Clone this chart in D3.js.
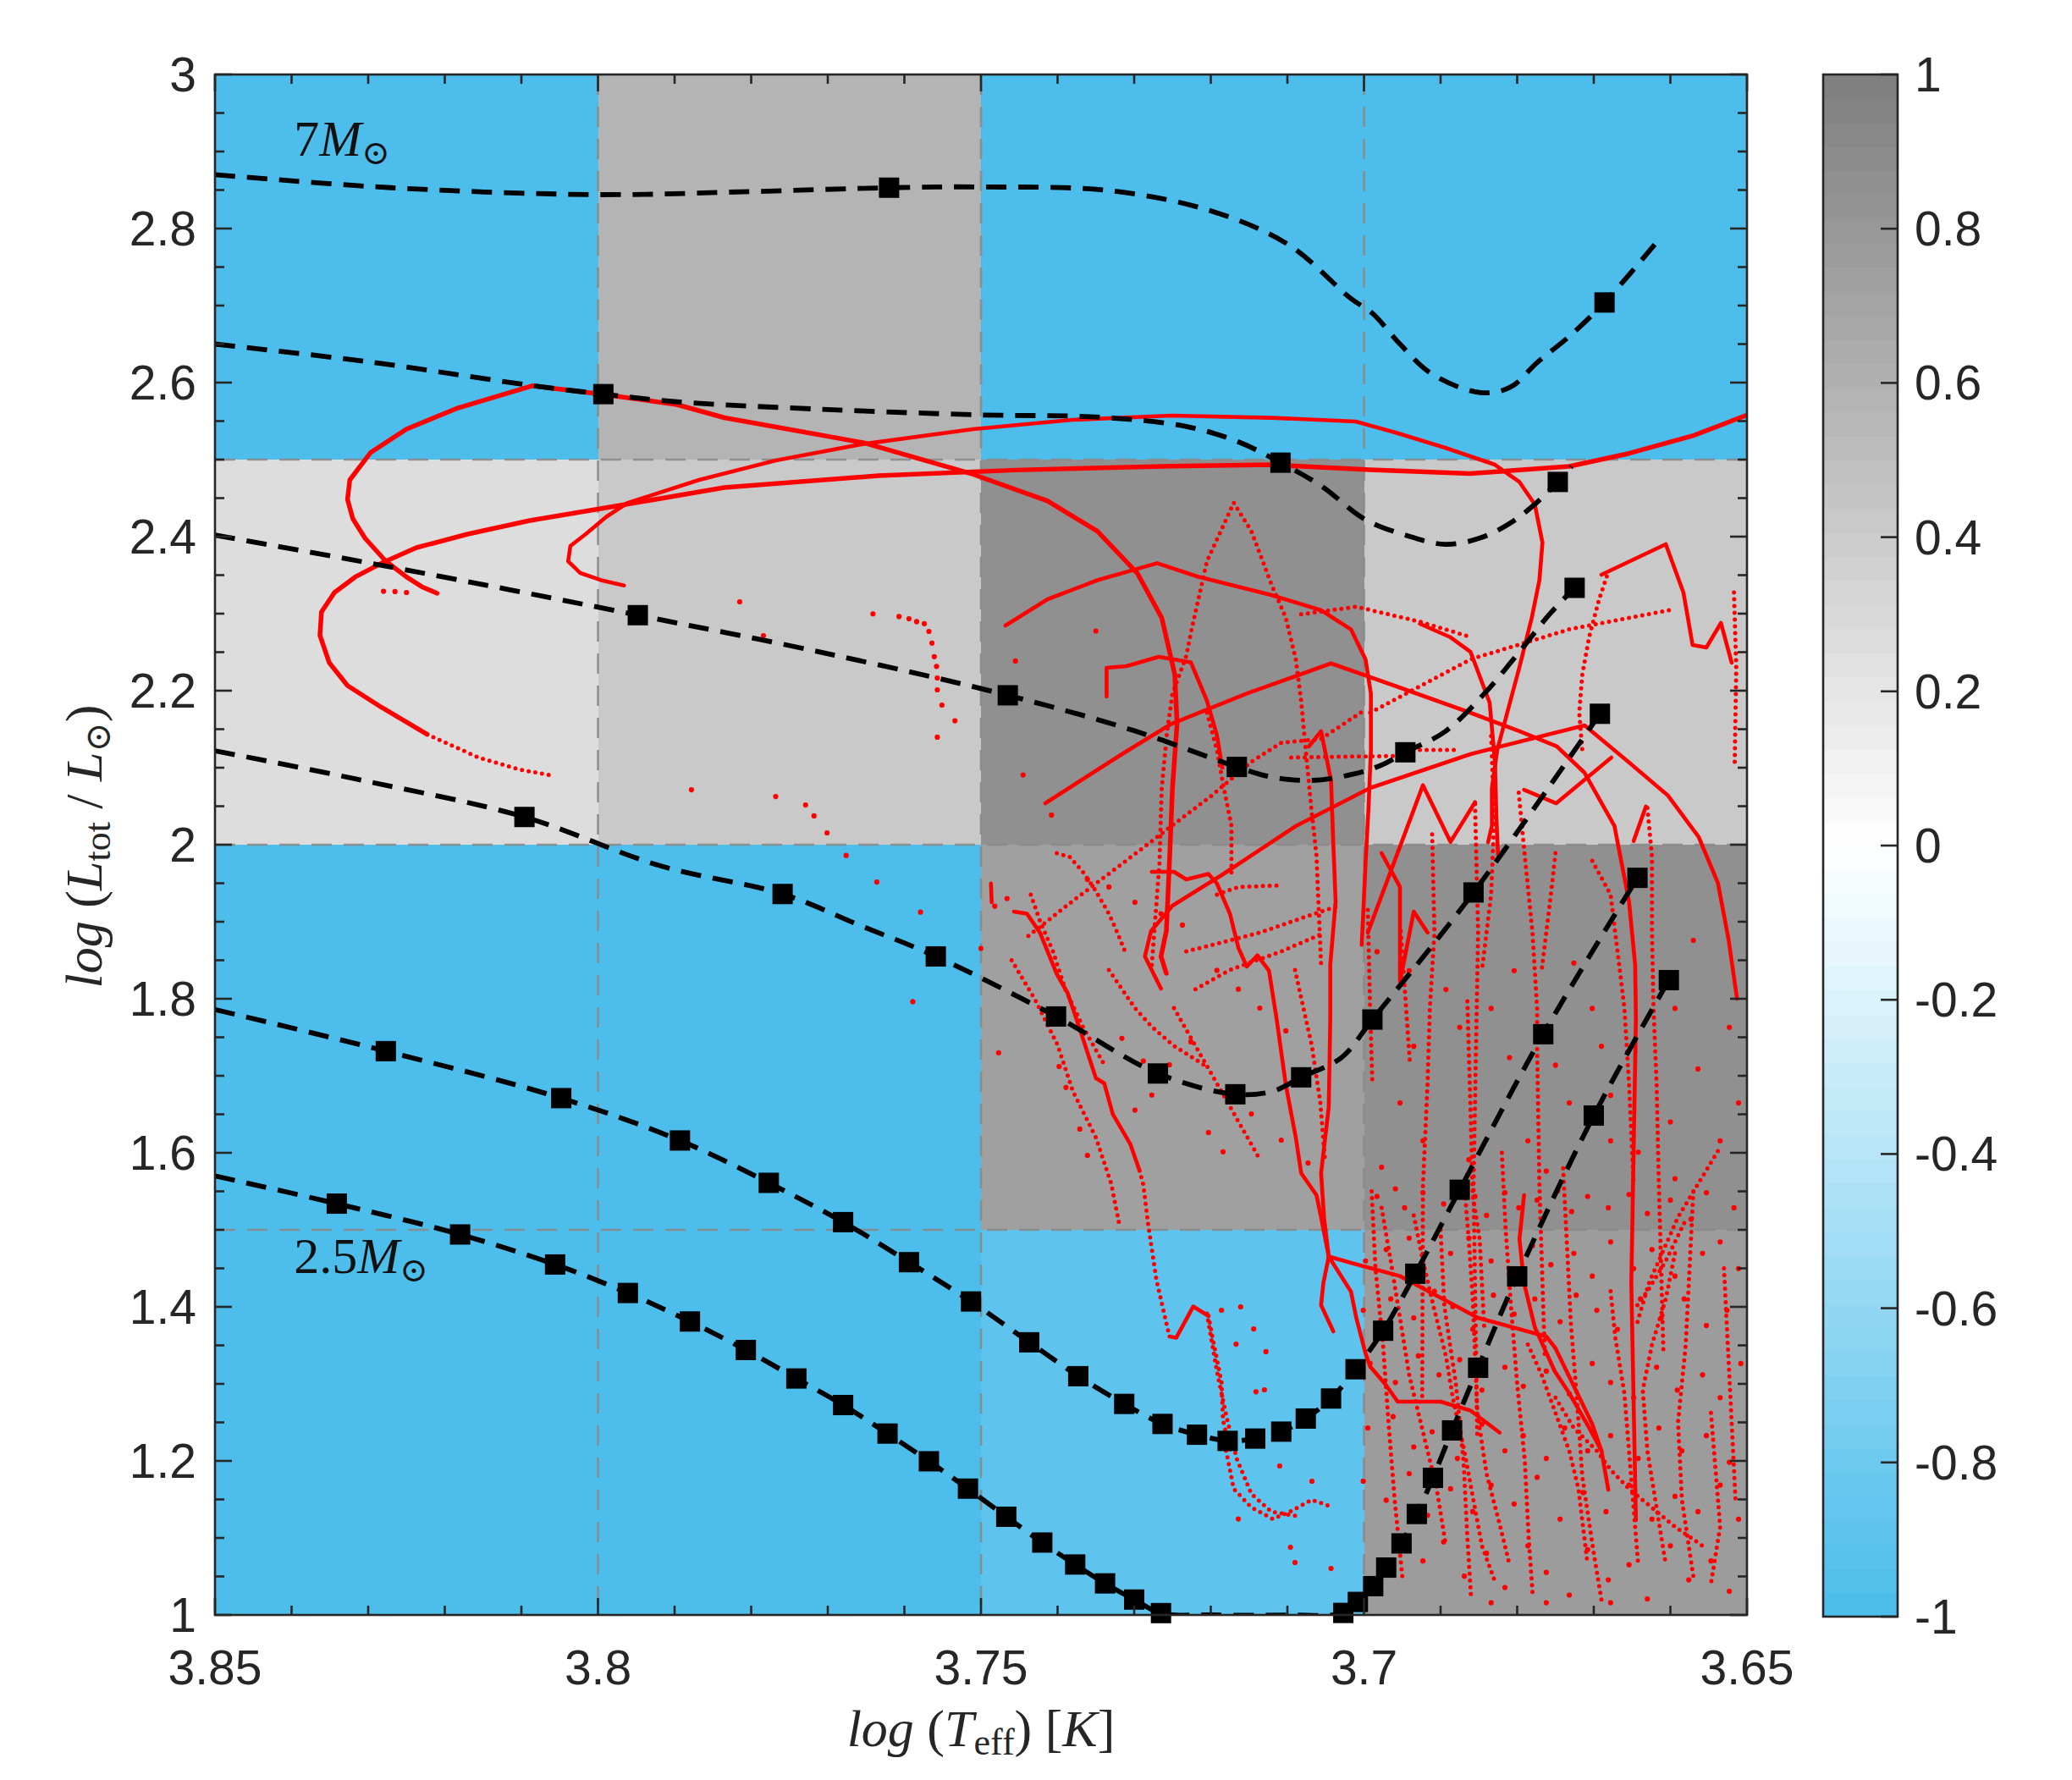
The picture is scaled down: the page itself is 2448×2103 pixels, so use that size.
<!DOCTYPE html>
<html><head><meta charset="utf-8">
<script src="https://cdn.jsdelivr.net/npm/d3@7"></script>
<style>body{margin:0;background:#fff}svg{display:block}</style>
</head><body>
<svg id="c" width="2448" height="2103"></svg>
<script>
// ---------------- DATA ----------------
const xEdges = [3.85, 3.80, 3.75, 3.70, 3.65];
const yEdges = [1.0, 1.5, 2.0, 2.5, 3.0];
// rows: y 1-1.5, 1.5-2, 2-2.5, 2.5-3 ; cols: x 3.85-3.80 ... 3.70-3.65
const cellValues = [
  [-1, -1, -0.90, 0.78],
  [-1, -1, 0.75, 0.88],
  [0.26, 0.43, 0.88, 0.43],
  [-1, 0.60, -1, -1]
];
const xTickLabels = [3.85, 3.8, 3.75, 3.7, 3.65];
const yTickLabels = [1, 1.2, 1.4, 1.6, 1.8, 2, 2.2, 2.4, 2.6, 2.8, 3];
const cbTickLabels = [-1, -0.8, -0.6, -0.4, -0.2, 0, 0.2, 0.4, 0.6, 0.8, 1];

// black model tracks (logTeff, logL)
const track7 = [[3.85,2.870],[3.827,2.853],[3.80,2.844],[3.78,2.848],[3.762,2.853],[3.75,2.854],[3.733,2.849],[3.7197,2.822],[3.7097,2.778],[3.7017,2.709],[3.6989,2.690],[3.6953,2.650],[3.6911,2.611],[3.6848,2.587],[3.6809,2.594],[3.6774,2.626],[3.6732,2.660],[3.6686,2.704],[3.6613,2.788]];
const squares7 = [[3.762,2.853],[3.6686,2.704]];
const trackB = [[3.85,2.650],[3.83,2.627],[3.8085,2.596],[3.7993,2.585],[3.7897,2.575],[3.77,2.565],[3.75,2.558],[3.7344,2.555],[3.7232,2.543],[3.7164,2.523],[3.7109,2.496],[3.7056,2.466],[3.6998,2.422],[3.6946,2.402],[3.6894,2.390],[3.6849,2.398],[3.6810,2.417],[3.6777,2.442],[3.6747,2.471],[3.6729,2.491]];
const squaresB = [[3.7993,2.585],[3.7109,2.496],[3.6747,2.471]];
const trackC = [[3.85,2.402],[3.83,2.366],[3.8115,2.331],[3.7948,2.298],[3.77,2.248],[3.7465,2.194],[3.73,2.148],[3.7166,2.101],[3.7121,2.088],[3.7069,2.0835],[3.7017,2.091],[3.6978,2.103],[3.6946,2.120],[3.6894,2.147],[3.6843,2.196],[3.6797,2.2505],[3.6758,2.299],[3.6725,2.3335]];
const squaresC = [[3.7948,2.298],[3.7465,2.194],[3.7166,2.101],[3.6946,2.120],[3.6725,2.3335]];
const trackD = [[3.85,2.122],[3.83,2.082],[3.8096,2.036],[3.792,1.973],[3.7759,1.936],[3.766,1.896],[3.7559,1.855],[3.7402,1.777],[3.7269,1.703],[3.7168,1.676],[3.7119,1.680],[3.7082,1.698],[3.7029,1.724],[3.6989,1.773],[3.6857,1.938],[3.6692,2.170]];
const squaresD = [[3.8096,2.036],[3.7759,1.936],[3.7559,1.855],[3.7402,1.777],[3.7269,1.703],[3.7168,1.676],[3.7082,1.698],[3.6989,1.773],[3.6857,1.938],[3.6692,2.170]];
const trackE = [[3.85,1.786],[3.8277,1.732],[3.8048,1.671],[3.7893,1.616],[3.7777,1.561],[3.7680,1.510],[3.7594,1.458],[3.7513,1.407],[3.7437,1.354],[3.7373,1.310],[3.7313,1.274],[3.7263,1.248],[3.7218,1.234],[3.7178,1.226],[3.7142,1.229],[3.7108,1.238],[3.7076,1.255],[3.7043,1.281],[3.7011,1.319],[3.6975,1.369],[3.6933,1.443],[3.6875,1.552],[3.6766,1.754],[3.6643,1.957]];
const squaresE = [[3.8277,1.732],[3.8048,1.671],[3.7893,1.616],[3.7777,1.561],[3.7680,1.510],[3.7594,1.458],[3.7513,1.407],[3.7437,1.354],[3.7373,1.310],[3.7313,1.274],[3.7263,1.248],[3.7218,1.234],[3.7178,1.226],[3.7142,1.229],[3.7108,1.238],[3.7076,1.255],[3.7043,1.281],[3.7011,1.319],[3.6975,1.369],[3.6933,1.443],[3.6875,1.552],[3.6766,1.754],[3.6643,1.957]];
const track25 = [[3.85,1.570],[3.8341,1.534],[3.818,1.494],[3.8056,1.455],[3.7961,1.418],[3.7880,1.381],[3.7807,1.344],[3.7741,1.307],[3.7680,1.2725],[3.7622,1.2355],[3.7568,1.1995],[3.7517,1.164],[3.7467,1.1275],[3.7420,1.094],[3.7377,1.0655],[3.7338,1.041],[3.7300,1.020],[3.7265,1.0024],[3.7200,1.000],[3.7100,1.000],[3.7027,1.0026],[3.7008,1.0169],[3.6988,1.0374],[3.6971,1.0615],[3.6951,1.0929],[3.6931,1.1311],[3.6910,1.178],[3.6885,1.2396],[3.6851,1.3209],[3.6800,1.4396],[3.6700,1.6484],[3.6602,1.8242]];
const squares25 = [[3.8341,1.534],[3.818,1.494],[3.8056,1.455],[3.7961,1.418],[3.7880,1.381],[3.7807,1.344],[3.7741,1.307],[3.7680,1.2725],[3.7622,1.2355],[3.7568,1.1995],[3.7517,1.164],[3.7467,1.1275],[3.7420,1.094],[3.7377,1.0655],[3.7338,1.041],[3.7300,1.020],[3.7265,1.0024],[3.7027,1.0026],[3.7008,1.0169],[3.6988,1.0374],[3.6971,1.0615],[3.6951,1.0929],[3.6931,1.1311],[3.6910,1.178],[3.6885,1.2396],[3.6851,1.3209],[3.6800,1.4396],[3.6700,1.6484],[3.6602,1.8242]];

// red observed tracks: solid
const redA = [[3.7258,1.833],[3.7265,1.855],[3.7258,1.888],[3.7254,1.976],[3.7250,2.074],[3.7244,2.157],[3.7247,2.221],[3.7264,2.2945],[3.7296,2.3527],[3.7348,2.4071],[3.7413,2.4462],[3.7510,2.4808],[3.7654,2.522],[3.7835,2.5544],[3.7897,2.5714],[3.7993,2.5846],[3.8086,2.5958],[3.8183,2.567],[3.8250,2.5396],[3.8297,2.509],[3.8324,2.4736],[3.8327,2.4484],[3.8320,2.4231],[3.8304,2.3978],[3.8277,2.3681],[3.8250,2.3476],[3.8230,2.335],[3.8210,2.3264]];
const redB = [[3.8223,2.1433],[3.8283,2.1786],[3.8327,2.2066],[3.8351,2.2366],[3.8363,2.2719],[3.8361,2.3022],[3.8344,2.3275],[3.8317,2.3476],[3.8283,2.3653],[3.8237,2.3857],[3.8170,2.4033],[3.8089,2.4209],[3.7969,2.4409],[3.7835,2.4637],[3.7634,2.4791],[3.7455,2.4864],[3.7251,2.4915],[3.7121,2.4934],[3.6992,2.4868],[3.6862,2.4818],[3.6732,2.4912],[3.6654,2.508],[3.6571,2.5308],[3.6502,2.5571]];
const redC = [[3.7966,2.3365],[3.7996,2.3435],[3.8023,2.3527],[3.8039,2.3681],[3.8036,2.3879],[3.8016,2.4033],[3.7989,2.4258],[3.7962,2.4434],[3.7868,2.4736],[3.7768,2.4989],[3.7654,2.5202],[3.7510,2.5396],[3.7381,2.5516],[3.7251,2.5571],[3.7121,2.5543],[3.7011,2.5495],[3.6959,2.5352],[3.6894,2.5154],[3.6829,2.4934],[3.6797,2.4709],[3.6777,2.4418],[3.6767,2.3923],[3.6771,2.3434],[3.6781,2.2945],[3.6797,2.2308],[3.6813,2.1714],[3.6826,2.1231],[3.6833,2.0736],[3.6833,2.0245],[3.6838,2.0033]];
const redE = [[3.7468,2.2846],[3.7413,2.3187],[3.7348,2.3434],[3.7270,2.3655],[3.7218,2.3484],[3.7121,2.3242],[3.7056,2.3044],[3.7017,2.2796],[3.6998,2.2407],[3.6991,2.1962],[3.6991,2.1231],[3.6994,2.0495],[3.6998,1.9758],[3.7001,1.9099],[3.7003,1.870]];
const redG = [[3.7416,2.0538],[3.7316,2.1176],[3.7251,2.1571],[3.7153,2.1962],[3.7043,2.2354],[3.6959,2.2060],[3.6862,2.1717],[3.6797,2.1473],[3.6748,2.1275],[3.6712,2.0934],[3.6673,2.0242],[3.6654,1.9264],[3.6646,1.8440],[3.6645,1.7736],[3.6648,1.6022],[3.6651,1.4308],[3.6645,1.1231]];
const redH = [[3.7265,1.8132],[3.7286,1.8549],[3.7278,1.8879],[3.7250,1.9209],[3.7186,1.9604],[3.7089,2.0242],[3.6992,2.0736],[3.6861,2.1176],[3.6712,2.1549],[3.6655,2.1077],[3.6603,2.0637],[3.6563,2.0099],[3.6538,1.9505],[3.6524,1.8769],[3.6513,1.8000]];
const redF = [[3.7336,2.1925],[3.7336,2.2297],[3.7310,2.2319],[3.7268,2.2440],[3.7226,2.2367],[3.7205,2.1868],[3.7192,2.1422],[3.7185,2.100]];
const redK = [[3.6690,2.3505],[3.6606,2.3901],[3.6583,2.3275],[3.6571,2.2593],[3.6553,2.2560],[3.6534,2.2879],[3.6520,2.2363]];
const redJ = [[3.7457,1.9132],[3.7440,1.9104],[3.7423,1.8859],[3.7401,1.8319],[3.7387,1.8077],[3.7372,1.7637],[3.7350,1.6970],[3.7339,1.6901],[3.7328,1.6505],[3.7305,1.6112],[3.7293,1.5769]];
const redJV = [[3.7254,1.3615],[3.7245,1.3600],[3.7223,1.4005],[3.7203,1.3882]];
const redT1 = [[3.7277,1.9648],[3.7248,1.9648],[3.7232,1.9549],[3.7203,1.9620],[3.7192,1.9497],[3.7175,1.9104],[3.7164,1.8664],[3.7153,1.8418],[3.7139,1.8565],[3.7124,1.8365],[3.7114,1.7736],[3.7102,1.6879],[3.7089,1.6198],[3.7082,1.5736],[3.7062,1.5451],[3.7056,1.5165],[3.7046,1.4653]];
const redT2 = [[3.7072,2.1275],[3.7056,2.1473],[3.7043,2.0835],[3.7040,2.0000],[3.7037,1.9264],[3.7044,1.8440],[3.7044,1.7736],[3.7046,1.6593],[3.7056,1.5736],[3.7052,1.5143],[3.7046,1.4653]];
const redM = [[3.7046,1.4653],[3.7017,1.4571],[3.6953,1.4400],[3.6851,1.3857],[3.6762,1.3615],[3.6750,1.3462],[3.6714,1.2725],[3.6702,1.2478],[3.6690,1.2132]];
const redM1 = [[3.7046,1.4653],[3.7053,1.4308],[3.7056,1.4022],[3.7040,1.3681]];
const redM2 = [[3.7046,1.4653],[3.7017,1.4198],[3.7010,1.3857],[3.6998,1.3396],[3.6992,1.3224],[3.6972,1.2995],[3.6956,1.2769],[3.6900,1.2769],[3.6861,1.2654],[3.6823,1.2368]];
const redN = [[3.6791,1.5451],[3.6797,1.4879],[3.6791,1.4308],[3.6777,1.3736],[3.6751,1.3165],[3.6732,1.2879],[3.6706,1.2429],[3.6690,1.2132],[3.6681,1.1626]];
const redT3 = [[3.6995,1.8859],[3.6923,2.0773],[3.6887,2.0037],[3.6855,2.0552]];
const redZZ = [[3.6977,1.9890],[3.6953,1.9451],[3.6953,1.8220],[3.6935,1.9132],[3.6917,1.8859]];
const redV = [[3.6791,2.0714],[3.6749,2.0538],[3.6677,2.1132]];
const redS1 = [[3.6632,2.0495],[3.6648,2.0048]];
const redL = [[3.6927,2.2868],[3.6888,2.2698],[3.6861,2.2505],[3.6836,2.1846],[3.6829,2.1077],[3.6827,2.0308],[3.6825,1.9868]];
const redS2 = [[3.7487,1.9497],[3.7486,1.9253]];

// red observed tracks: dotted (sparser sampling)
const dotTent = [[3.7277,1.8440],[3.7267,1.9758],[3.7264,2.0736],[3.7257,2.1473],[3.7250,2.1962],[3.7232,2.2451],[3.7225,2.2796],[3.7205,2.3681],[3.7170,2.4440],[3.7147,2.4071],[3.7121,2.3385],[3.7102,2.2945],[3.7089,2.2407],[3.7082,2.1868],[3.7076,2.1231],[3.7069,2.0495],[3.7062,1.9857],[3.7056,1.8440]];
const dotBtail = [[3.8223,2.1433],[3.8156,2.1132],[3.8103,2.0978],[3.8062,2.0901]];
const dotC = [[3.7205,2.1714],[3.7192,2.1231],[3.7183,2.0736],[3.7173,2.0245],[3.7173,1.9604]];
const dotD = [[3.7004,2.1717],[3.7056,2.1374],[3.7108,2.1324],[3.7147,2.1077],[3.7199,2.0637],[3.7251,2.0245],[3.7315,1.9758],[3.7381,1.9264],[3.7444,1.8769]];
const dotE = [[3.7095,2.1132],[3.6952,2.1154]];
const dotF = [[3.6927,2.1231],[3.6878,2.1231]];
const dot3 = [[3.6602,2.3044],[3.6732,2.2796],[3.6861,2.2407],[3.6992,2.1714]];
const dot2 = [[3.7082,2.2992],[3.7010,2.3090],[3.6927,2.2895],[3.6861,2.2698]];
const dotK2 = [[3.6683,2.3484],[3.6693,2.3187],[3.6706,2.2698],[3.6715,2.2209],[3.6719,2.1714],[3.6715,2.1231]];
const dotVA = [[3.6911,2.0135],[3.6908,1.8859],[3.6914,1.7879],[3.6917,1.6901],[3.6923,1.5582],[3.6924,1.2835]];
const dotVB = [[3.6855,2.0527],[3.6851,1.8859],[3.6857,1.5582],[3.6852,1.2286]];
const dotVC = [[3.6798,2.0675],[3.6789,1.9747],[3.6780,1.8859],[3.6774,1.7879],[3.6774,1.7388],[3.6771,1.5582],[3.6764,1.3385]];
const dotVD = [[3.6750,1.9890],[3.6756,1.9352],[3.6762,1.8859],[3.6768,1.8374]];
const dotVE = [[3.6702,1.9791],[3.6678,1.9352],[3.6672,1.8859],[3.6666,1.8374],[3.6660,1.7879],[3.6654,1.6901],[3.6648,1.5582]];
const dotVF = [[3.6630,2.0478],[3.6624,1.9841],[3.6624,1.8859],[3.6622,1.7879],[3.6618,1.6901],[3.6615,1.5582],[3.6609,1.3385]];
const dotVG = [[3.6834,2.1411],[3.6830,2.0330],[3.6834,1.9352],[3.6846,1.8369]];
const dotVH = [[3.6995,1.9154],[3.6992,1.7879],[3.6989,1.6901]];
const dotVR = [[3.6517,2.3275],[3.6514,2.2297],[3.6516,2.1077]];
const dotV11a = [[3.6952,1.8879],[3.6946,1.8022],[3.6940,1.7165]];
const dotV11b = [[3.6865,1.7967],[3.6861,1.6593],[3.6858,1.5451],[3.6849,1.4879],[3.6843,1.3736]];
const dotDiag = [[3.6538,1.6022],[3.6590,1.5165],[3.6628,1.4308],[3.6645,1.3736]];
const dotJ = [[3.7293,1.5769],[3.7288,1.5582],[3.7282,1.5088],[3.7271,1.4352],[3.7254,1.3615]];
const dotJ2 = [[3.7203,1.3882],[3.7198,1.3615],[3.7186,1.3022],[3.7184,1.2527],[3.7173,1.2066]];
const dotJ3 = [[3.7205,1.3912],[3.7192,1.3165],[3.7180,1.2597],[3.7166,1.2025],[3.7147,1.1571],[3.7121,1.1341],[3.7089,1.1286]];
const dotLB = [[3.7180,1.2132],[3.7170,1.1637],[3.7147,1.1396],[3.7119,1.1246],[3.7096,1.1345],[3.7068,1.1495],[3.7040,1.1396]];
const dotP1 = [[3.6935,1.5188],[3.6923,1.4596],[3.6908,1.3955],[3.6893,1.3363],[3.6884,1.2821],[3.6869,1.2131],[3.6858,1.1539],[3.6846,1.0898],[3.6828,1.0406]];
const dotP2 = [[3.6869,1.5582],[3.6863,1.4843],[3.6858,1.4103],[3.6855,1.3363],[3.6852,1.2624],[3.6840,1.1835],[3.6822,1.1145],[3.6810,1.0652]];
const dotP3 = [[3.6786,1.3511],[3.6768,1.3117],[3.6750,1.2624],[3.6732,1.2131],[3.6720,1.1638],[3.6714,1.1145],[3.6708,1.0652]];
const dotP4 = [[3.6678,1.4202],[3.6672,1.3610],[3.6660,1.2871],[3.6654,1.2131],[3.6648,1.1392],[3.6642,1.0652]];
const dotP5 = [[3.6594,1.4695],[3.6606,1.4103],[3.6624,1.3511],[3.6636,1.2920],[3.6630,1.2131],[3.6618,1.1392],[3.6606,1.0652]];
const dotP6 = [[3.6547,1.2624],[3.6541,1.1885],[3.6535,1.1145],[3.6547,1.0406]];
const dotP7 = [[3.6582,1.5089],[3.6606,1.4596],[3.6630,1.4202],[3.6648,1.3955]];
const dotP8 = [[3.6977,1.5286],[3.6965,1.4596],[3.6953,1.3857],[3.6941,1.3117],[3.6923,1.2378],[3.6905,1.1638],[3.6893,1.0898]];
const dotP9 = [[3.6750,1.2821],[3.6726,1.2427],[3.6696,1.2131],[3.6678,1.1885],[3.6654,1.1638],[3.6624,1.1392],[3.6594,1.1145],[3.6558,1.0898]];
const dotP10 = [[3.6990,1.550],[3.6985,1.450],[3.6975,1.350],[3.6968,1.250],[3.6960,1.150],[3.6950,1.050]];
const dotP11 = [[3.6900,1.500],[3.6895,1.400],[3.6880,1.300],[3.6870,1.200],[3.6865,1.100],[3.6860,1.020]];
const dotP12 = [[3.6820,1.600],[3.6815,1.500],[3.6808,1.400],[3.6800,1.300],[3.6790,1.200],[3.6785,1.100],[3.6780,1.030]];
const dotP13 = [[3.6740,1.580],[3.6735,1.480],[3.6730,1.380],[3.6722,1.280],[3.6715,1.180],[3.6700,1.080],[3.6690,1.020]];
const dotP14 = [[3.6570,1.550],[3.6575,1.450],[3.6580,1.350],[3.6590,1.250],[3.6585,1.150],[3.6570,1.050]];
const dotP15 = [[3.6530,1.450],[3.6525,1.350],[3.6520,1.250],[3.6515,1.150]];
const dotQ1 = [[3.7401,1.9890],[3.7384,1.9841],[3.7367,1.9648],[3.7350,1.9399],[3.7333,1.9104],[3.7322,1.8859],[3.7310,1.8565]];
const dotQ2 = [[3.7435,1.9352],[3.7423,1.9011],[3.7406,1.8615],[3.7390,1.8124],[3.7367,1.7637],[3.7339,1.7143]];
const dotQ3 = [[3.7333,1.8374],[3.7299,1.7879],[3.7277,1.7637],[3.7248,1.7388],[3.7209,1.7143]];
const dotQ4 = [[3.7232,1.8615],[3.7192,1.8714],[3.7136,1.8859],[3.7079,1.9055],[3.7034,1.9203]];
const dotQ5 = [[3.7220,1.8124],[3.7175,1.8374],[3.7108,1.8615],[3.7051,1.8859]];
const dotQ6 = [[3.7192,1.9352],[3.7164,1.9451],[3.7108,1.9473]];
const dotQ7 = [[3.7248,1.7879],[3.7220,1.7388],[3.7192,1.6901],[3.7164,1.6407],[3.7136,1.5916]];
const dotQ8 = [[3.7090,1.8374],[3.7079,1.7879],[3.7068,1.7388],[3.7057,1.6651],[3.7051,1.5916]];
const dotQ9 = [[3.7460,1.850],[3.7430,1.800],[3.7400,1.740],[3.7380,1.680],[3.7350,1.620],[3.7330,1.560],[3.7320,1.510]];

// isolated red points
const redPoints = [
 [3.7641,2.2997],[3.7607,2.2962],[3.7594,2.2934],[3.7584,2.2896],[3.7574,2.2870],[3.7568,2.2769],[3.7564,2.2617],[3.7561,2.2442],[3.7558,2.2315],[3.7557,2.2165],[3.7557,2.2011],[3.7551,2.1813],[3.7534,2.1609],[3.7557,2.1396],
 [3.7815,2.3154],[3.7784,2.2714],[3.7878,2.0714],[3.7768,2.0626],[3.7729,2.0516],[3.7718,2.0374],[3.7701,2.0154],[3.7676,1.9861],[3.7636,1.9516],[3.7579,1.9124],[3.7589,1.7962],[3.7500,1.8654],[3.7477,1.7299],[3.7455,2.2385],[3.7445,2.0906],[3.7408,2.0385],[3.7350,2.2775],
 [3.8250,2.3275],[3.8265,2.3286],[3.8280,2.3290],
 [3.7482,1.9203],[3.7466,1.9301],[3.7398,1.7121],[3.7389,1.6848],[3.7371,1.6308],[3.7361,1.5967],[3.7299,1.6554],[3.7277,1.6750],[3.7254,1.7143],[3.7226,1.7440],[3.7203,1.6264],[3.7184,1.6014],[3.7147,1.6505],[3.7108,1.6165],[3.7073,1.5868],[3.7102,1.7583],[3.7136,1.7879],[3.7164,1.8124],[3.7192,1.8369],[3.7237,1.8957],[3.7265,1.9104],[3.7299,1.9253],[3.7333,1.9451],[3.7361,1.9549],[3.7316,1.7486],[3.7288,1.7191],
 [3.7164,1.1246],[3.7096,1.0879],[3.7090,1.0681],[3.7043,1.0604],[3.7068,1.1736],[3.7110,1.1934],[3.7144,1.3714],[3.7128,1.3418],[3.7161,1.4000],[3.7186,1.3956],[3.7167,1.3516],[3.7130,1.2923],[3.7141,1.2897],
 [3.6983,1.8611],[3.6941,1.8365],[3.6893,1.8120],[3.6875,1.7629],[3.6834,1.7874],[3.6810,1.7236],[3.6750,1.7138],[3.6732,1.6647],[3.6690,1.7383],[3.6678,1.6745],[3.6594,1.7874],[3.6570,1.8758],[3.6564,1.7089],[3.6600,1.6401],[3.6535,1.6156],[3.6523,1.7629],[3.6953,1.6647],[3.6923,1.6156],[3.6863,1.5910],[3.6786,1.6156],[3.6762,1.5763],[3.6642,1.6008],[3.6511,1.6647],[3.6804,1.8365],[3.6726,1.8463],[3.6702,1.7874],[3.6935,1.7383],[3.6977,1.5812],[3.6594,1.5665],[3.6678,1.6156],
 [3.6983,1.5434],[3.6959,1.5533],[3.6947,1.5286],[3.6923,1.5483],[3.6896,1.5336],[3.6855,1.5434],[3.6840,1.5188],[3.6816,1.5483],[3.6798,1.5286],[3.6774,1.5385],[3.6747,1.5508],[3.6729,1.5237],[3.6708,1.5434],[3.6681,1.5286],[3.6654,1.5459],[3.6630,1.5212],[3.6600,1.5385],[3.6573,1.5138],[3.6553,1.5483],[3.6517,1.5286],
 [3.6998,1.4596],[3.6971,1.4744],[3.6941,1.4892],[3.6923,1.4448],[3.6887,1.4695],[3.6863,1.4892],[3.6834,1.4596],[3.6807,1.4448],[3.6780,1.4793],[3.6756,1.4547],[3.6726,1.4695],[3.6702,1.4399],[3.6678,1.4843],[3.6648,1.4497],[3.6624,1.4744],[3.6594,1.4399],[3.6558,1.4695],[3.6535,1.4843],[3.6511,1.4497],
 [3.7001,1.3955],[3.6965,1.4103],[3.6935,1.3857],[3.6908,1.4202],[3.6884,1.4004],[3.6858,1.3709],[3.6831,1.4152],[3.6804,1.3906],[3.6777,1.4103],[3.6744,1.3807],[3.6723,1.4152],[3.6696,1.3955],[3.6669,1.3709],[3.6639,1.4103],[3.6612,1.3857],[3.6582,1.4103],[3.6553,1.3758],[3.6526,1.3955],
 [3.6992,1.3265],[3.6959,1.3018],[3.6929,1.3363],[3.6902,1.3117],[3.6875,1.3314],[3.6846,1.2920],[3.6816,1.3216],[3.6792,1.2969],[3.6762,1.3166],[3.6732,1.2871],[3.6702,1.3265],[3.6678,1.3018],[3.6648,1.2821],[3.6618,1.3216],[3.6591,1.2920],[3.6558,1.3117],[3.6535,1.2821],[3.6508,1.3265],
 [3.6995,1.2427],[3.6962,1.2575],[3.6935,1.2180],[3.6911,1.2378],[3.6878,1.2032],[3.6846,1.2476],[3.6816,1.2131],[3.6792,1.2328],[3.6762,1.2032],[3.6738,1.2427],[3.6708,1.2131],[3.6678,1.2328],[3.6642,1.2032],[3.6615,1.2427],[3.6585,1.2131],[3.6553,1.2328],[3.6523,1.1983],
 [3.7001,1.1737],[3.6971,1.1490],[3.6941,1.1835],[3.6917,1.1293],[3.6887,1.1638],[3.6858,1.1342],[3.6834,1.1687],[3.6804,1.1441],[3.6774,1.1786],[3.6744,1.1244],[3.6714,1.1589],[3.6684,1.1342],[3.6654,1.1687],[3.6624,1.1244],[3.6594,1.1539],[3.6564,1.1342],[3.6535,1.1687],[3.6511,1.1244],
 [3.6959,1.0997],[3.6923,1.0701],[3.6896,1.0948],[3.6869,1.0504],[3.6840,1.0800],[3.6816,1.0356],[3.6786,1.0898],[3.6762,1.0553],[3.6732,1.0258],[3.6708,1.0849],[3.6681,1.0455],[3.6654,1.0652],[3.6630,1.0208],[3.6600,1.0898],[3.6576,1.0455],[3.6547,1.0701],[3.6523,1.0307],[3.6678,1.0159],[3.6762,1.0159],[3.6834,1.0159]
];

const solidRed = [redA, redB, redC, redE, redG, redH, redF, redK, redJ, redJV, redT1, redT2, redM, redM1, redM2, redN, redT3, redZZ, redV, redS1, redL, redS2];
const dottedRed = [dotTent, dotBtail, dotC, dotD, dotE, dotF, dot3, dot2, dotK2, dotVA, dotVB, dotVC, dotVD, dotVE, dotVF, dotVG, dotVH, dotVR, dotV11a, dotV11b, dotDiag, dotJ, dotJ2, dotJ3, dotLB, dotP1, dotP2, dotP3, dotP4, dotP5, dotP6, dotP7, dotP8, dotP9, dotP10, dotP11, dotP12, dotP13, dotP14, dotP15, dotQ1, dotQ2, dotQ3, dotQ4, dotQ5, dotQ6, dotQ7, dotQ8, dotQ9];
const blackTracks = [track7, trackB, trackC, trackD, trackE, track25];
const blackSquares = [squares7, squaresB, squaresC, squaresD, squaresE, squares25];

// ---------------- DRAW ----------------
const M = {left:254, right:2064, top:88, bottom:1908};
const x = d3.scaleLinear().domain([3.85, 3.65]).range([M.left, M.right]);
const y = d3.scaleLinear().domain([1, 3]).range([M.bottom, M.top]);
const svg = d3.select('#c');
const AX = '#262626';
const TICKFONT = '"Liberation Sans", Arial, Helvetica, sans-serif';
const SERIF = '"Liberation Serif", "DejaVu Serif", serif';

svg.append('defs').append('clipPath').attr('id','pc').append('rect')
  .attr('x',M.left).attr('y',M.top).attr('width',M.right-M.left).attr('height',M.bottom-M.top);

// colormap: 64 levels blue -> white -> gray
const BLUE=[77,190,235], GRAY=[128,128,128], NLEV=64;
function cmapColor(i){
  const v = -1 + 2*i/(NLEV-1);
  const c = v<0 ? BLUE.map(b=>255+(b-255)*(-v)) : GRAY.map(g=>255+(g-255)*v);
  return d3.rgb(c[0],c[1],c[2]).formatHex();
}
function colorOf(v){ return cmapColor(Math.max(0,Math.min(NLEV-1,Math.round((v+1)/2*(NLEV-1))))); }

// cells
const cells = [];
cellValues.forEach((row,r)=>row.forEach((v,c)=>cells.push({r,c,v})));
svg.append('g').selectAll('rect').data(cells).join('rect')
  .attr('x',d=>x(xEdges[d.c])).attr('width',d=>x(xEdges[d.c+1])-x(xEdges[d.c]))
  .attr('y',d=>y(yEdges[d.r+1])).attr('height',d=>y(yEdges[d.r])-y(yEdges[d.r+1]))
  .attr('fill',d=>colorOf(d.v)).attr('shape-rendering','crispEdges');

// cell boundary dashed lines
const grid = svg.append('g').attr('stroke','#8a8a8a').attr('stroke-width',2.6).attr('stroke-dasharray','24 14').attr('opacity',0.9);
xEdges.slice(1,-1).forEach(v=>grid.append('line').attr('x1',x(v)).attr('x2',x(v)).attr('y1',M.top).attr('y2',M.bottom));
yEdges.slice(1,-1).forEach(v=>grid.append('line').attr('y1',y(v)).attr('y2',y(v)).attr('x1',M.left).attr('x2',M.right));

// red data
const line = d3.line().x(d=>x(d[0])).y(d=>y(d[1]));
const red = svg.append('g').attr('clip-path','url(#pc)');
red.selectAll('path.dot').data(dottedRed).join('path').attr('class','dot')
  .attr('d',line).attr('fill','none').attr('stroke','#ff0000').attr('stroke-width',5)
  .attr('stroke-linecap','round').attr('stroke-dasharray','0 8');
red.selectAll('path.sol').data(solidRed).join('path').attr('class','sol')
  .attr('d',line).attr('fill','none').attr('stroke','#ff0000')
  .attr('stroke-width',(d,i)=>i<2?5.5:4.6)
  .attr('stroke-linejoin','round').attr('stroke-linecap','round');
red.selectAll('circle').data(redPoints).join('circle')
  .attr('cx',d=>x(d[0])).attr('cy',d=>y(d[1])).attr('r',3.1).attr('fill','#ff0000');

// black tracks
const tline = d3.line().x(d=>x(d[0])).y(d=>y(d[1])).curve(d3.curveCatmullRom.alpha(0.5));
const blk = svg.append('g').attr('clip-path','url(#pc)');
blk.selectAll('path').data(blackTracks).join('path').attr('d',tline)
  .attr('fill','none').attr('stroke','#000').attr('stroke-width',5.8).attr('stroke-dasharray','24 14');
const sq = svg.append('g');
blackSquares.forEach(s=>sq.selectAll(null).data(s).join('rect')
  .attr('x',d=>x(d[0])-12).attr('y',d=>y(d[1])-12).attr('width',24).attr('height',24).attr('fill','#000'));

// axes
function range(a,b,s){const r=[];for(let v=a;v<=b+1e-9;v+=s)r.push(+v.toFixed(4));return r;}
const xMinor = range(3.65,3.85,0.01), yMinor = range(1,3,0.05);
const fmt = v=>String(+v.toFixed(2));
const axG = svg.append('g').attr('stroke',AX).attr('stroke-width',2.6);
axG.append('rect').attr('x',M.left).attr('y',M.top).attr('width',M.right-M.left).attr('height',M.bottom-M.top).attr('fill','none');
function tickLines(vals, isX, len){
  vals.forEach(v=>{
    if(isX){ const px=x(v);
      axG.append('line').attr('x1',px).attr('x2',px).attr('y1',M.bottom).attr('y2',M.bottom-len);
      axG.append('line').attr('x1',px).attr('x2',px).attr('y1',M.top).attr('y2',M.top+len);
    } else { const py=y(v);
      axG.append('line').attr('y1',py).attr('y2',py).attr('x1',M.left).attr('x2',M.left+len);
      axG.append('line').attr('y1',py).attr('y2',py).attr('x1',M.right).attr('x2',M.right-len);
    }
  });
}
tickLines(xMinor.filter(v=>!xTickLabels.some(t=>Math.abs(t-v)<1e-6)), true, 11);
tickLines(xTickLabels, true, 20);
tickLines(yMinor.filter(v=>!yTickLabels.some(t=>Math.abs(t-v)<1e-6)), false, 11);
tickLines(yTickLabels, false, 20);

const tl = svg.append('g').attr('font-family',TICKFONT).attr('font-size',57).attr('fill',AX);
tl.selectAll('text.xt').data(xTickLabels).join('text').attr('class','xt')
  .attr('x',d=>x(d)).attr('y',1990).attr('text-anchor','middle').text(fmt);
tl.selectAll('text.yt').data(yTickLabels).join('text').attr('class','yt')
  .attr('x',232).attr('y',d=>y(d)+20).attr('text-anchor','end').text(fmt);

// colorbar
const CB = {left:2154, right:2242, top:88, bottom:1910};
const cy = d3.scaleLinear().domain([-1,1]).range([CB.bottom, CB.top]);
const bands = d3.range(NLEV);
svg.append('g').selectAll('rect').data(bands).join('rect')
  .attr('x',CB.left).attr('width',CB.right-CB.left)
  .attr('y',i=>cy(-1+2*(i+1)/NLEV)).attr('height',i=>cy(-1+2*i/NLEV)-cy(-1+2*(i+1)/NLEV)+0.6)
  .attr('fill',i=>cmapColor(i)).attr('shape-rendering','crispEdges');
const cbG = svg.append('g').attr('stroke',AX).attr('stroke-width',2.6);
cbG.append('rect').attr('x',CB.left).attr('y',CB.top).attr('width',CB.right-CB.left).attr('height',CB.bottom-CB.top).attr('fill','none');
cbTickLabels.forEach(v=>cbG.append('line').attr('x1',CB.right).attr('x2',CB.right-20).attr('y1',cy(v)).attr('y2',cy(v)));
tl.selectAll('text.ct').data(cbTickLabels).join('text').attr('class','ct')
  .attr('x',2262).attr('y',d=>cy(d)+20).attr('text-anchor','start').text(fmt);

// axis labels
const xl = svg.append('text').attr('font-family',SERIF).attr('font-size',62).attr('fill',AX)
  .attr('x',1159).attr('y',2063).attr('text-anchor','middle');
xl.append('tspan').attr('font-style','italic').text('log');
xl.append('tspan').text(' (');
xl.append('tspan').attr('font-style','italic').text('T');
xl.append('tspan').attr('font-size',44).attr('dy',10).text('eff');
xl.append('tspan').attr('dy',-10).text(') [');
xl.append('tspan').attr('font-style','italic').text('K');
xl.append('tspan').text(']');

const yl = svg.append('text').attr('font-family',SERIF).attr('font-size',62).attr('fill',AX)
  .attr('text-anchor','middle').attr('transform','translate(120,1000) rotate(-90)');
yl.append('tspan').attr('font-style','italic').text('log');
yl.append('tspan').text(' (');
yl.append('tspan').attr('font-style','italic').text('L');
yl.append('tspan').attr('font-size',44).attr('dy',10).text('tot');
yl.append('tspan').attr('dy',-10).text(' / ');
yl.append('tspan').attr('font-style','italic').text('L');
yl.append('tspan').attr('font-size',42).attr('dy',10).text('⊙');
yl.append('tspan').attr('dy',-10).text(')');

// mass labels
function massLabel(num, px, py){
  const t = svg.append('text').attr('font-family',SERIF).attr('font-size',60).attr('fill','#111')
    .attr('x',px).attr('y',py);
  t.append('tspan').text(num);
  t.append('tspan').attr('font-style','italic').text('M');
  t.append('tspan').attr('font-size',40).attr('dy',10).text('⊙');
}
massLabel('7', x(3.8397), y(2.894));
massLabel('2.5', x(3.8397), y(1.444));
</script>
</body></html>
